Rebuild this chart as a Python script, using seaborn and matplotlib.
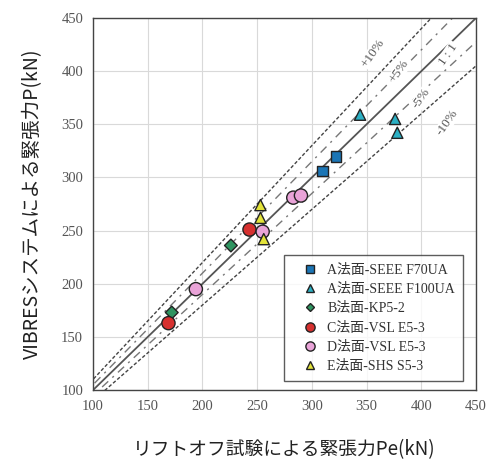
import numpy as np
import pandas as pd
import matplotlib
matplotlib.use("Agg")
import matplotlib.pyplot as plt
import seaborn as sns

# data (Pe, P)
groups = ["A法面-SEEE F70UA", "A法面-SEEE F100UA", "B法面-KP5-2",
          "C法面-VSL E5-3", "D法面-VSL E5-3", "E法面-SHS S5-3"]
pe_a70 = [310, 322]
p_a70 = [306, 320]
pe_a100 = [344, 376, 378]
p_a100 = [359, 355, 342]
pe_b = [226, 172]
p_b = [236, 173]
pe_c = [243, 169]
p_c = [251, 163]
pe_d = [255, 283, 290, 194]
p_d = [249, 281, 283, 195]
pe_e = [253, 253, 256]
p_e = [274, 262, 242]

colors = ["#1b75b5", "#2cb0c4", "#2e9460", "#d6302f", "#e9a3d8", "#e3e33a"]
markers = ["s", "^", "D", "o", "o", "^"]
sizes = [60, 65, 42, 90, 90, 65]

ratio_lines = [1.10, 1.05, 1.0, 0.95, 0.90]
ratio_labels = ["+10%", "+5%", "1 : 1", "-5%", "-10%"]
label_pos = [(356, 417), (380, 400), (425, 416), (400, 374), (424, 352)]

rows = []
for g, xs, ys in zip(groups, [pe_a70, pe_a100, pe_b, pe_c, pe_d, pe_e],
                     [p_a70, p_a100, p_b, p_c, p_d, p_e]):
    for x, y in zip(xs, ys):
        rows.append({"Pe": x, "P": y, "group": g})
df = pd.DataFrame(rows)

sns.set_style("whitegrid", {"grid.color": "#d9d9d9", "axes.edgecolor": "#333333"})
plt.rcParams['font.family'] = ['Liberation Serif', 'Noto Sans CJK JP']

fig = plt.figure(figsize=(4.97, 4.59), dpi=100)
ax = fig.add_axes([0.187, 0.150, 0.771, 0.811])

# reference lines
xx = np.array([0, 500])
for r in ratio_lines:
    if r == 1.0:
        ax.plot(xx, xx * r, color="#555555", lw=1.3, ls="-", zorder=1)
    elif abs(r - 1) > 0.07:
        ax.plot(xx, xx * r, color="#444444", lw=1.0, ls=(0, (2.5, 1.5)), zorder=1)
    else:
        ax.plot(xx, xx * r, color="#777777", lw=1.0, ls=(0, (6, 4, 1.5, 4)), zorder=1)

sns.scatterplot(data=df, x="Pe", y="P", hue="group", style="group",
                hue_order=groups, style_order=groups,
                palette=dict(zip(groups, colors)),
                markers=dict(zip(groups, markers)),
                size="group", sizes=dict(zip(groups, sizes)),
                edgecolor="#222222", linewidth=1.0, ax=ax, zorder=3)

ax.set_xlim(100, 450)
ax.set_ylim(100, 450)
ticks = [100, 150, 200, 250, 300, 350, 400, 450]
ax.set_xticks(ticks)
ax.set_yticks(ticks)
ax.tick_params(labelsize=10.5, colors="#555555", length=3, direction="in", pad=7)
for s in ax.spines.values():
    s.set_color("#444444")
    s.set_linewidth(1.0)

cjk = ['Noto Sans CJK JP', 'DejaVu Sans']
ax.set_xlabel("リフトオフ試験による緊張力Pe(kN)", fontsize=13.5, family=cjk,
              color="#222222", labelpad=19)
ax.set_ylabel("VIBRESシステムによる緊張力P(kN)", fontsize=14, family=cjk,
              color="#222222", labelpad=13)

# labels along the reference lines
for lab, (tx, ty) in zip(ratio_labels, label_pos):
    ax.text(tx, ty, lab, fontsize=9.5, color="#555555", rotation=55,
            ha="center", va="center", zorder=2,
            bbox=dict(facecolor="white", edgecolor="none", pad=0.5))

leg = ax.legend(loc="lower right", bbox_to_anchor=(0.985, 0.005), fontsize=10,
                frameon=True, fancybox=False, edgecolor="#333333",
                handletextpad=0.0, handlelength=2.5, labelspacing=0.45,
                borderpad=0.6, markerscale=0.7)
leg.get_frame().set_linewidth(1.0)
for t in leg.get_texts():
    t.set_color("#333333")

fig.savefig("out.png", dpi=100)
